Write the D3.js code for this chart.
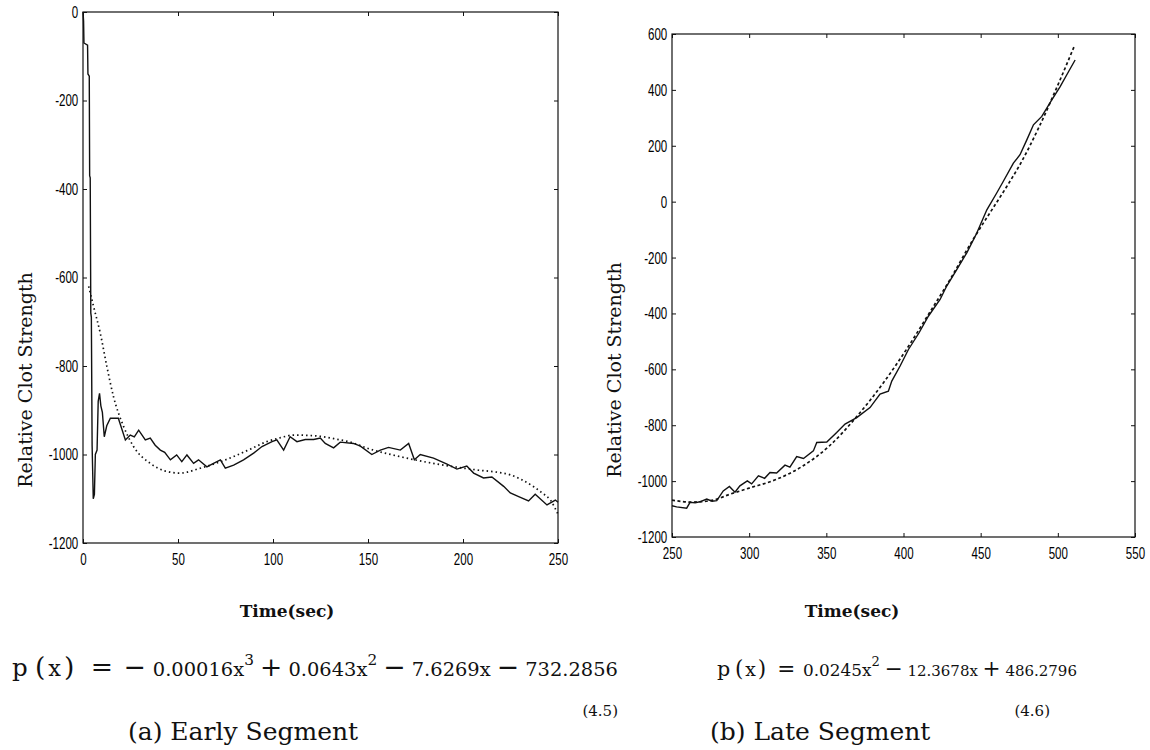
<!DOCTYPE html>
<html>
<head>
<meta charset="utf-8">
<script src="https://cdn.jsdelivr.net/npm/d3@7"></script>
<style>
  body { margin: 0; background: #fff; }
  .tick text { font-family: "Liberation Sans", Arial, sans-serif; font-size: 17px; fill: #000; }
  .serif { font-family: "DejaVu Serif", "Liberation Serif", serif; fill: #111; white-space: pre; }
</style>
</head>
<body>
<div id="chart-area"></div>
<script>
// (a) early segment: measured curve
var earlyTime = [0, 0.3, 0.5, 2.4, 2.6, 3.3, 3.5, 3.8, 4.1, 4.4,
    4.8, 5.4, 6, 6.5, 7.4, 8, 8.7, 9.4, 10.2, 11.2,
    12.5, 14.4, 18.6, 22.3, 24.9, 27, 29.3, 32.8, 35.4, 38,
    40.7, 43, 46, 49.3, 52, 54.7, 58.2, 60.8, 65.2, 68.7,
    72.3, 74.9, 79.3, 84.5, 89.8, 94.2, 99.5, 102, 105.6, 109,
    112.6, 117, 121.4, 124.9, 127.5, 131.9, 135.4, 142.4, 146, 152,
    156.5, 160.8, 167, 171.4, 174.4, 177.5, 184.5, 191.6, 196.8, 202,
    205.6, 210.8, 215.2, 221.4, 224.9, 229.3, 234.5, 238, 244.2, 248.6, 250];
var earlyStrength = [0, -20, -70, -75, -140, -145, -370, -375, -680, -690,
    -980, -1100, -1090, -1000, -990, -880, -862, -890, -905, -960,
    -935, -918, -918, -967, -956, -960, -945, -967, -963, -979,
    -990, -995, -1012, -1001, -1016, -1001, -1020, -1012, -1028, -1020,
    -1012, -1031, -1024, -1012, -997, -982, -971, -967, -990, -960,
    -971, -966, -966, -963, -975, -985, -972, -975, -981, -1000,
    -990, -984, -990, -975, -1012, -1000, -1008, -1022, -1033, -1026,
    -1042, -1053, -1051, -1072, -1087, -1095, -1105, -1090, -1114, -1103, -1108];

// (a) early segment: cubic fit (dotted)
var earlyFitTime = [3, 5.6, 9.1, 12.6, 16.1, 21.4, 26.6, 35.4, 43, 51.2, 61.7, 70, 79, 88, 96.7, 104,
    110.8, 119.6, 126.6, 133, 140.7, 151.2, 162, 172.3, 189.8, 207.4, 217.9, 224.9, 230, 237.2, 242, 246, 250];
var earlyFitStrength = [-620, -666, -726, -802, -870, -937, -982, -1020, -1037, -1042, -1031, -1020, -1005, -988, -971, -962,
    -956, -957, -960, -965, -972, -988, -1000, -1010, -1024, -1035, -1040, -1046, -1055, -1073, -1088, -1103, -1135];

// (b) late segment: measured curve
var lateTime = [250, 253, 259.5, 261.7, 265, 268, 272.5, 276, 279, 283.2,
    287.2, 290.8, 294, 298.8, 301.6, 306, 310, 313.5, 317.8, 323.2,
    326.4, 330.8, 335.2, 341.6, 343.8, 350.3, 356.7, 362.1, 369.7, 378.3,
    384.8, 390.2, 392.4, 397.8, 403.2, 410, 416.1, 423.7, 428, 434.5,
    441, 447.5, 454, 460.4, 464.7, 471.2, 475.5, 479.9, 484.2, 489.6,
    496.1, 501.5, 506.9, 511.2];
var lateStrength = [-1088, -1092, -1097, -1076, -1078, -1074, -1064, -1072, -1070, -1035,
    -1019, -1040, -1017, -999, -1010, -981, -990, -969, -971, -943,
    -950, -912, -919, -892, -862, -860, -826, -796, -773, -737,
    -689, -678, -642, -588, -529, -470, -410, -350, -302, -243,
    -183, -112, -29, 31, 73, 138, 168, 221, 275, 305,
    364, 412, 465, 507];

// (b) late segment: quadratic fit (dashed)
var lateFitTime = [250, 262, 275, 288, 300, 318, 335, 352, 370, 387, 404, 416, 430, 445, 456, 467, 476, 488, 501, 511];
var lateFitStrength = [-1068, -1075, -1070, -1046, -1025, -993, -945, -874, -767, -648, -511, -405, -280, -136, -40, 55, 138, 269, 430, 561];

var earlyXTicks = [0, 50, 100, 150, 200, 250];
var earlyYTicks = [0, -200, -400, -600, -800, -1000, -1200];
var lateXTicks = [250, 300, 350, 400, 450, 500, 550];
var lateYTicks = [600, 400, 200, 0, -200, -400, -600, -800, -1000, -1200];

var width = 1150;
var height = 750;

var svg = d3.select("#chart-area")
    .append("svg")
    .attr("width", width)
    .attr("height", height);

function drawPanel(p) {
    var x = d3.scaleLinear().domain(p.xDomain).range([p.left, p.right]);
    var y = d3.scaleLinear().domain(p.yDomain).range([p.bottom, p.top]);
    var g = svg.append("g");

    // axes, ticks pointing inward on all four sides
    g.append("g")
        .attr("transform", `translate(0, ${p.bottom})`)
        .call(d3.axisBottom(x).tickValues(p.xTicks).tickSizeInner(-4).tickSizeOuter(0)
            .tickPadding(10).tickFormat(d => String(d)));
    g.append("g")
        .attr("transform", `translate(${p.left}, 0)`)
        .call(d3.axisLeft(y).tickValues(p.yTicks).tickSizeInner(-4).tickSizeOuter(0)
            .tickPadding(7).tickFormat(d => String(d)));
    g.append("g")
        .attr("transform", `translate(0, ${p.top})`)
        .call(d3.axisTop(x).tickValues(p.xTicks).tickSizeInner(-4).tickSizeOuter(0).tickFormat(""));
    g.append("g")
        .attr("transform", `translate(${p.right}, 0)`)
        .call(d3.axisRight(y).tickValues(p.yTicks).tickSizeInner(-4).tickSizeOuter(0).tickFormat(""));

    g.selectAll(".domain").remove();
    g.selectAll(".tick line").attr("stroke", "#111");
    // narrow digits like the original plot
    g.selectAll(".tick text").attr("transform", "scale(0.68,1)");

    g.append("rect")
        .attr("x", p.left)
        .attr("y", p.top)
        .attr("width", p.right - p.left)
        .attr("height", p.bottom - p.top)
        .attr("fill", "none")
        .attr("stroke", "#111")
        .attr("stroke-width", 1.2);

    var line = d3.line()
        .x(d => x(d[0]))
        .y(d => y(d[1]));

    var fitPts = p.fitTime.map((t, i) => [t, p.fitValue[i]]);
    g.append("path")
        .datum(fitPts)
        .attr("d", line.curve(d3.curveMonotoneX))
        .attr("fill", "none")
        .attr("stroke", "#111")
        .attr("stroke-width", 1.7)
        .attr("stroke-dasharray", p.fitDash);

    var pts = p.time.map((t, i) => [t, p.value[i]]);
    g.append("path")
        .datum(pts)
        .attr("d", line.curve(d3.curveLinear))
        .attr("fill", "none")
        .attr("stroke", "#111")
        .attr("stroke-width", 1.4);

    g.append("text")
        .attr("class", "serif")
        .attr("transform", `translate(${p.yLabelX}, ${p.yLabelY}) rotate(-90)`)
        .attr("text-anchor", "middle")
        .attr("font-size", "19px")
        .text("Relative Clot Strength");

    g.append("text")
        .attr("class", "serif")
        .attr("x", p.xLabelX)
        .attr("y", 617)
        .attr("text-anchor", "middle")
        .attr("font-size", "17px")
        .attr("font-weight", "bold")
        .text("Time(sec)");
}

drawPanel({
    left: 83, right: 558, top: 12, bottom: 543,
    xDomain: [0, 250], yDomain: [-1200, 0],
    xTicks: earlyXTicks, yTicks: earlyYTicks,
    time: earlyTime, value: earlyStrength,
    fitTime: earlyFitTime, fitValue: earlyFitStrength,
    fitDash: "1.5,3",
    yLabelX: 32, yLabelY: 380, xLabelX: 287
});

drawPanel({
    left: 672, right: 1135, top: 34, bottom: 537,
    xDomain: [250, 550], yDomain: [-1200, 600],
    xTicks: lateXTicks, yTicks: lateYTicks,
    time: lateTime, value: lateStrength,
    fitTime: lateFitTime, fitValue: lateFitStrength,
    fitDash: "3,2.5",
    yLabelX: 621, yLabelY: 370, xLabelX: 852
});

// equations: pieces laid side by side, then scaled to the width they take in the figure
function equation(x0, y0, targetWidth, parts) {
    var g = svg.append("g");
    var cx = 0;
    parts.forEach(function (pt) {
        var t = g.append("text")
            .attr("class", "serif")
            .attr("x", cx)
            .attr("y", pt.sup ? -11 : 0)
            .attr("font-size", pt.size + "px")
            .text(pt.s);
        cx += t.node().getComputedTextLength() + (pt.gap || 0);
    });
    var k = targetWidth / cx;
    g.attr("transform", `translate(${x0}, ${y0}) scale(${k})`);
}

equation(12, 676, 606, [
    { s: "p", size: 24, gap: 7 }, { s: "(", size: 26, gap: 3 }, { s: "x", size: 22, gap: 3 }, { s: ")", size: 26, gap: 16 },
    { s: "=", size: 26, gap: 10 }, { s: "\u2212", size: 26, gap: 7 },
    { s: "0.00016x", size: 19 }, { s: "3", size: 15, sup: true, gap: 6 },
    { s: "+", size: 26, gap: 6 }, { s: "0.0643x", size: 19 }, { s: "2", size: 15, sup: true, gap: 6 },
    { s: "\u2212", size: 26, gap: 6 }, { s: "7.6269x", size: 19, gap: 6 },
    { s: "\u2212", size: 26, gap: 6 }, { s: "732.2856", size: 19 }
]);

equation(717, 676, 360, [
    { s: "p", size: 22, gap: 5 }, { s: "(", size: 23, gap: 2 }, { s: "x", size: 20, gap: 2 }, { s: ")", size: 23, gap: 12 },
    { s: "=", size: 23, gap: 8 },
    { s: "0.0245x", size: 18 }, { s: "2", size: 14, sup: true, gap: 5 },
    { s: "\u2212", size: 23, gap: 5 }, { s: "12.3678x", size: 16, gap: 5 },
    { s: "+", size: 23, gap: 5 }, { s: "486.2796", size: 16 }
]);

svg.append("text").attr("class", "serif")
    .attr("x", 618).attr("y", 716).attr("text-anchor", "end")
    .attr("font-size", "15px").text("(4.5)");
svg.append("text").attr("class", "serif")
    .attr("x", 1050).attr("y", 716).attr("text-anchor", "end")
    .attr("font-size", "15px").text("(4.6)");

svg.append("text").attr("class", "serif")
    .attr("x", 128).attr("y", 740)
    .attr("font-size", "25px").text("(a) Early Segment");
svg.append("text").attr("class", "serif")
    .attr("x", 710).attr("y", 740)
    .attr("font-size", "25px").text("(b) Late Segment");
</script>
</body>
</html>
